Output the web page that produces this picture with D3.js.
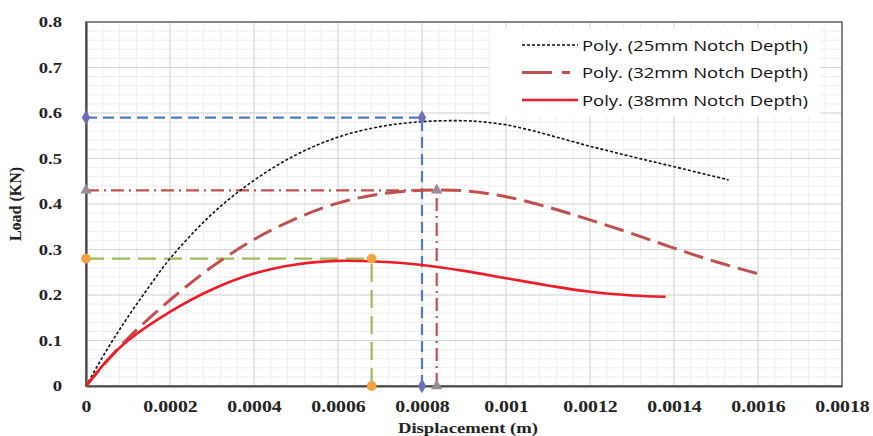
<!DOCTYPE html>
<html>
<head>
<meta charset="utf-8">
<script src="https://cdn.jsdelivr.net/npm/d3@7"></script>
<style>
  html, body { margin: 0; padding: 0; background: #fff; }
  svg { display: block; }
</style>
</head>
<body>
<svg id="chart" width="873" height="436"></svg>
<script>
// Displacement (m) sample positions and load (KN) for each fitted curve
const disp25 = [0, 0.00005, 0.0001, 0.00015, 0.0002, 0.0003, 0.0004, 0.0005, 0.0006, 0.0007, 0.0008, 0.0009, 0.00095, 0.001, 0.00105, 0.0011, 0.0012, 0.0013, 0.0014, 0.00153];
const load25 = [0, 0.08, 0.152, 0.218, 0.28, 0.378, 0.452, 0.508, 0.547, 0.57, 0.581, 0.583, 0.58, 0.574, 0.564, 0.552, 0.527, 0.504, 0.482, 0.453];

const disp32 = [0, 0.00005, 0.0001, 0.0002, 0.0003, 0.0004, 0.0005, 0.0006, 0.0007, 0.0008, 0.0009, 0.001, 0.0011, 0.0012, 0.0013, 0.0014, 0.0015, 0.00161];
const load32 = [0, 0.055, 0.105, 0.189, 0.262, 0.322, 0.368, 0.402, 0.422, 0.43, 0.429, 0.416, 0.393, 0.365, 0.335, 0.303, 0.273, 0.244];

const disp38 = [0, 0.00005, 0.0001, 0.0002, 0.0003, 0.0004, 0.0005, 0.0006, 0.0007, 0.0008, 0.0009, 0.001, 0.0011, 0.0012, 0.0013, 0.00138];
const load38 = [0, 0.056, 0.1, 0.163, 0.212, 0.247, 0.267, 0.275, 0.273, 0.266, 0.253, 0.237, 0.221, 0.207, 0.199, 0.196];

// Peak guide lines: displacement and load at each peak
const peakNames = ["25mm", "32mm", "38mm"];
const peakDisp = [0.0008, 0.000835, 0.00068];
const peakLoad = [0.59, 0.43, 0.28];

const legendLabels = ["Poly. (25mm Notch Depth)", "Poly. (32mm Notch Depth)", "Poly. (38mm Notch Depth)"];
const xTicks = [0, 0.0002, 0.0004, 0.0006, 0.0008, 0.001, 0.0012, 0.0014, 0.0016, 0.0018];
const xTickLabels = ["0", "0.0002", "0.0004", "0.0006", "0.0008", "0.001", "0.0012", "0.0014", "0.0016", "0.0018"];
const yTicks = [0, 0.1, 0.2, 0.3, 0.4, 0.5, 0.6, 0.7, 0.8];
const yTickLabels = ["0", "0.1", "0.2", "0.3", "0.4", "0.5", "0.6", "0.7", "0.8"];

const svg = d3.select("#chart");
const margin = { left: 86, right: 31, top: 22, bottom: 50 };
const W = 873, H = 436;
const x = d3.scaleLinear().domain([0, 0.0018]).range([margin.left, W - margin.right]);
const y = d3.scaleLinear().domain([0, 0.8]).range([H - margin.bottom, margin.top]);

const serif = "'Liberation Serif', 'Times New Roman', serif";

// widen text glyphs horizontally by a factor
function widen(sel, k) {
  sel.each(function () {
    const len = this.getComputedTextLength();
    d3.select(this).attr("textLength", len * k).attr("lengthAdjust", "spacingAndGlyphs");
  });
}

// minor grid
const xMinor = d3.range(0, 0.0018 + 1e-9, 0.00004);
const yMinor = d3.range(0, 0.8 + 1e-9, 0.02);
const grid = svg.append("g");
grid.selectAll(".vmin").data(xMinor).join("line")
  .attr("x1", d => x(d)).attr("x2", d => x(d))
  .attr("y1", y(0)).attr("y2", y(0.8))
  .attr("stroke", "#eeeeee").attr("stroke-width", 1);
grid.selectAll(".hmin").data(yMinor).join("line")
  .attr("x1", x(0)).attr("x2", x(0.0018))
  .attr("y1", d => y(d)).attr("y2", d => y(d))
  .attr("stroke", "#eeeeee").attr("stroke-width", 1);
// major grid
grid.selectAll(".vmaj").data(xTicks).join("line")
  .attr("x1", d => x(d)).attr("x2", d => x(d))
  .attr("y1", y(0)).attr("y2", y(0.8))
  .attr("stroke", "#d6d6d6").attr("stroke-width", 1);
grid.selectAll(".hmaj").data(yTicks).join("line")
  .attr("x1", x(0)).attr("x2", x(0.0018))
  .attr("y1", d => y(d)).attr("y2", d => y(d))
  .attr("stroke", "#d6d6d6").attr("stroke-width", 1);

// plot frame
svg.append("rect")
  .attr("x", x(0)).attr("y", y(0.8))
  .attr("width", x(0.0018) - x(0)).attr("height", y(0) - y(0.8))
  .attr("fill", "none").attr("stroke", "#6b6b6b").attr("stroke-width", 1.6);

// axes
const xAxis = d3.axisBottom(x).tickValues(xTicks).tickFormat((d, i) => xTickLabels[i]).tickSize(0).tickPadding(14);
const yAxis = d3.axisLeft(y).tickValues(yTicks).tickFormat((d, i) => yTickLabels[i]).tickSize(0).tickPadding(24);
const gx = svg.append("g").attr("transform", `translate(0,${y(0)})`).call(xAxis);
const gy = svg.append("g").attr("transform", `translate(${x(0)},0)`).call(yAxis);
gx.selectAll("text").attr("font-size", 16.5);
gy.selectAll("text").attr("font-size", 15.5);
[gx, gy].forEach(g => {
  g.select(".domain").attr("stroke", "#4a4a4a").attr("stroke-width", 2.2);
  g.selectAll("text").attr("font-family", serif)
    .attr("font-weight", "bold").attr("fill", "#222");
  widen(g.selectAll("text"), 1.2);
});

const xTitle = svg.append("text")
  .attr("x", (x(0) + x(0.0018)) / 2 + 4).attr("y", 433)
  .attr("text-anchor", "middle")
  .attr("font-family", serif)
  .attr("font-weight", "bold").attr("font-size", 15.5).attr("fill", "#222")
  .text("Displacement (m)");
widen(xTitle, 1.2);
svg.append("text")
  .attr("transform", `translate(21,${(y(0) + y(0.8)) / 2}) rotate(-90)`)
  .attr("text-anchor", "middle")
  .attr("font-family", serif)
  .attr("font-weight", "bold").attr("font-size", 16).attr("fill", "#222")
  .text("Load (KN)");

// peak guide lines
const guideColor = ["#4f7ac6", "#c0504d", "#9bbb59"];
const guideDash = ["11,6", "13,5,2,5", "18,8"];
const markerColor = ["#6c6fb5", "#9a8a98", "#f4a340"];
const guides = svg.append("g");
peakNames.forEach((n, i) => {
  const px = peakDisp[i], py = peakLoad[i];
  guides.append("line")
    .attr("x1", x(0)).attr("x2", x(px)).attr("y1", y(py)).attr("y2", y(py))
    .attr("stroke", guideColor[i]).attr("stroke-width", 2.2).attr("stroke-dasharray", guideDash[i]);
  guides.append("line")
    .attr("x1", x(px)).attr("x2", x(px)).attr("y1", y(0)).attr("y2", y(py))
    .attr("stroke", guideColor[i]).attr("stroke-width", 2.2).attr("stroke-dasharray", guideDash[i]);
});

// curves
const line = d3.line().x(d => x(d[0])).y(d => y(d[1])).curve(d3.curveCatmullRom.alpha(0.5));
const curves = [
  { xs: disp25, ys: load25, color: "#111", width: 1.6, dash: "3,2" },
  { xs: disp32, ys: load32, color: "#c0504d", width: 3, dash: "20,8" },
  { xs: disp38, ys: load38, color: "#ee1c24", width: 2.6, dash: null }
];
curves.forEach(c => {
  svg.append("path")
    .datum(c.xs.map((v, i) => [v, c.ys[i]]))
    .attr("d", line)
    .attr("fill", "none")
    .attr("stroke", c.color)
    .attr("stroke-width", c.width)
    .attr("stroke-dasharray", c.dash);
});

// peak markers
const symbols = [d3.symbolDiamond, d3.symbolTriangle, d3.symbolCircle];
const symSize = [60, 55, 75];
peakNames.forEach((n, i) => {
  const px = peakDisp[i], py = peakLoad[i];
  [[0, py], [px, py], [px, 0]].forEach(p => {
    svg.append("path")
      .attr("d", d3.symbol().type(symbols[i]).size(symSize[i])())
      .attr("transform", `translate(${x(p[0])},${y(p[1])})`)
      .attr("fill", markerColor[i]);
  });
});

// legend
const lg = svg.append("g").attr("transform", "translate(490,29)");
lg.append("rect").attr("x", 0).attr("y", 0).attr("width", 330).attr("height", 88).attr("fill", "#fff");
legendLabels.forEach((t, i) => {
  const ly = 16 + i * 27.5;
  lg.append("line")
    .attr("x1", 32).attr("x2", 88).attr("y1", ly).attr("y2", ly)
    .attr("stroke", curves[i].color).attr("stroke-width", curves[i].width)
    .attr("stroke-dasharray", i === 1 ? "30,10,8,30" : curves[i].dash);
  lg.append("text")
    .attr("x", 92).attr("y", ly + 5.5)
    .attr("font-family", "'Open Sans', 'Liberation Sans', sans-serif")
    .attr("font-size", 15).attr("fill", "#111")
    .attr("textLength", 226).attr("lengthAdjust", "spacingAndGlyphs")
    .text(t);
});
</script>
</body>
</html>
